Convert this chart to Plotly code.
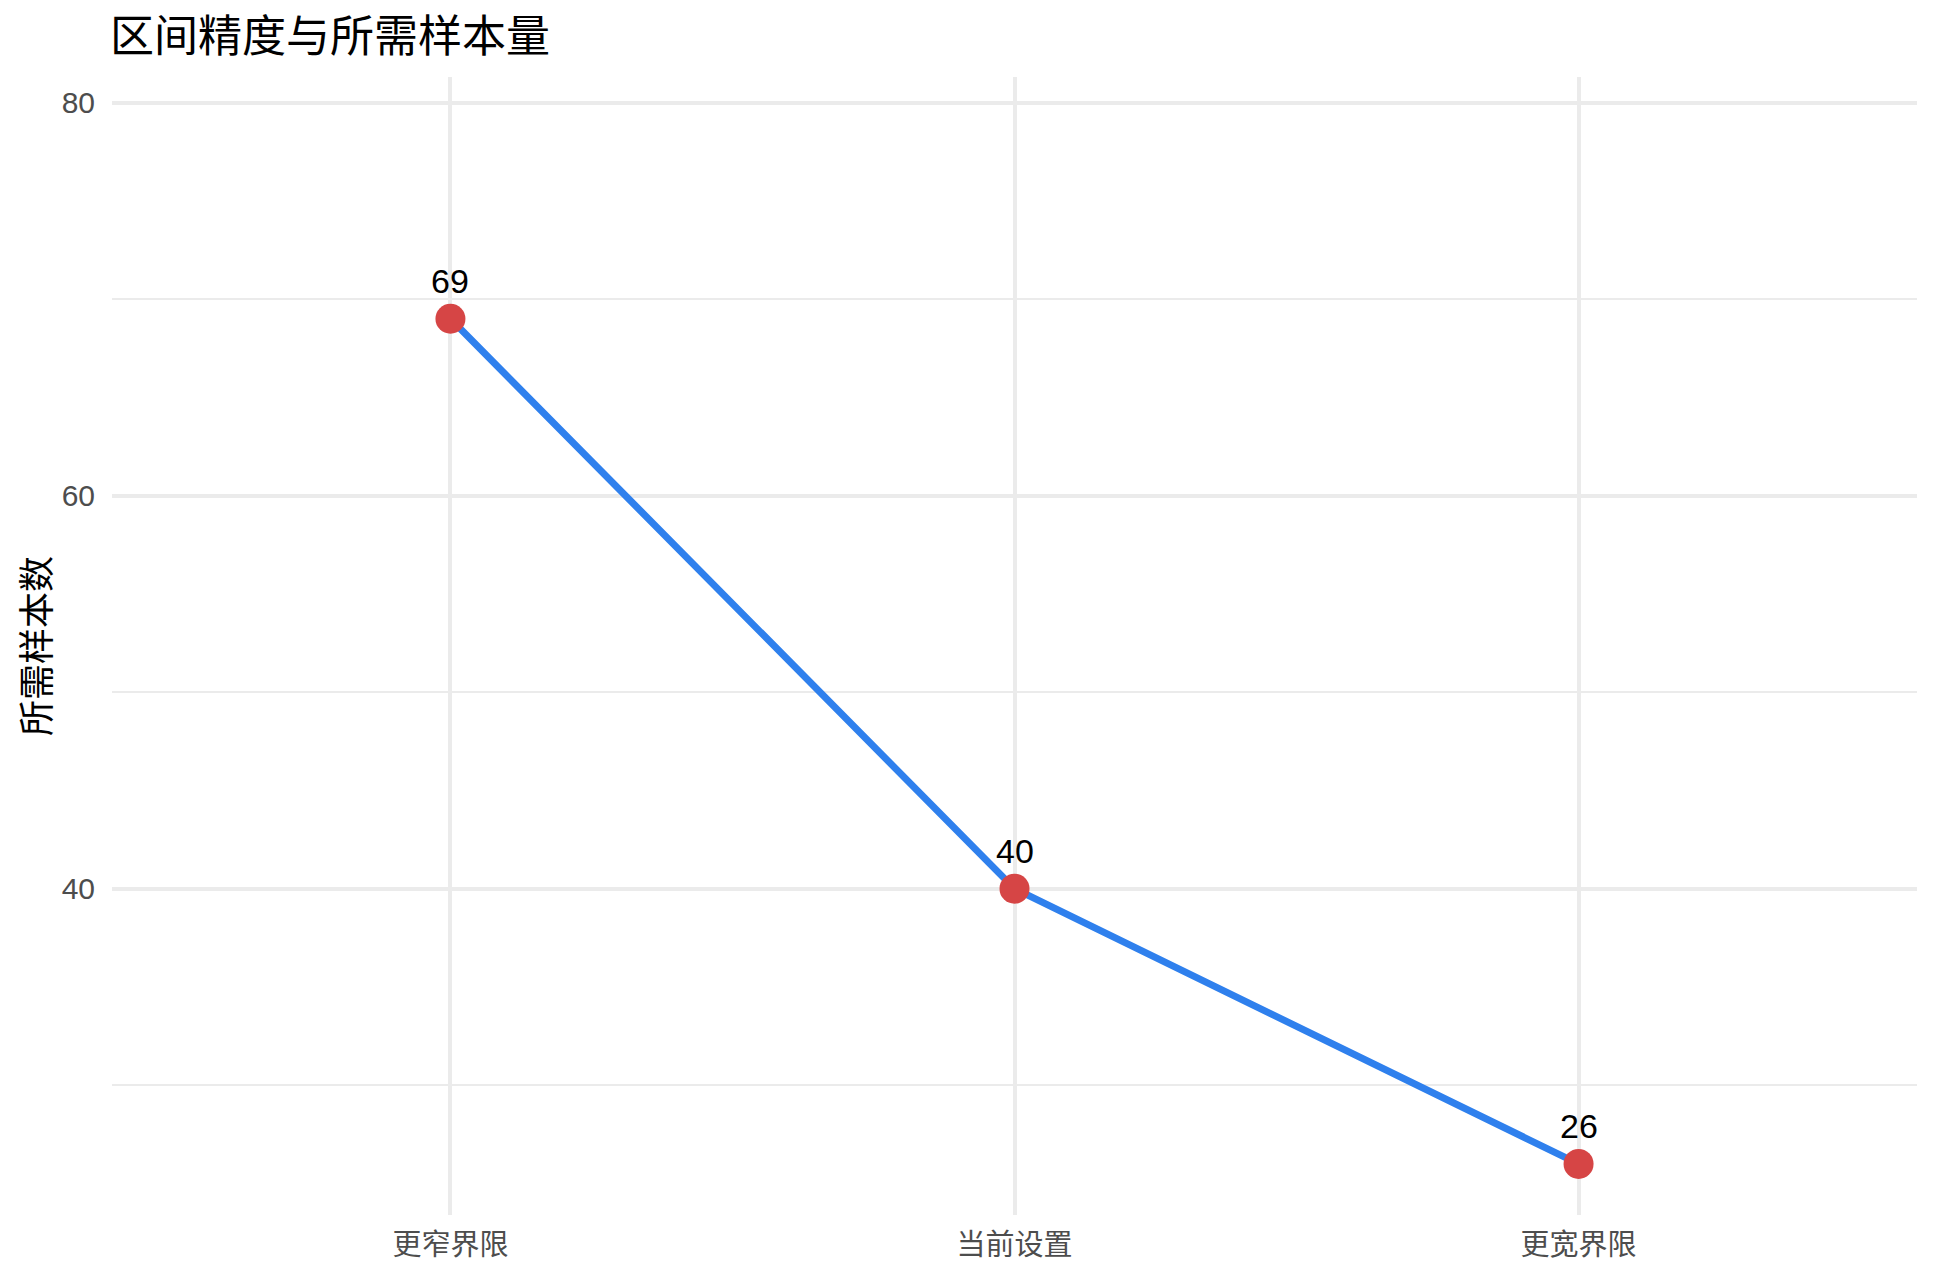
import plotly.graph_objects as go

# data
settings = ["更窄界限", "当前设置", "更宽界限"]
sample_n = [69, 40, 26]
y_ticks = [40, 60, 80]

font_fam = "Liberation Sans, Noto Sans CJK SC, sans-serif"

fig = go.Figure()
fig.add_trace(go.Scatter(
    x=settings,
    y=sample_n,
    mode="lines+markers",
    line=dict(color="#2F80ED", width=7),
    marker=dict(color="#D64545", size=30),
    showlegend=False,
))

# value labels above each point
for s, n in zip(settings, sample_n):
    fig.add_annotation(
        x=s, y=n, text=str(n), showarrow=False,
        yanchor="bottom", yshift=17,
        font=dict(family=font_fam, size=34, color="black"),
    )

# page body has an 8px margin, so the figure is 8px smaller each way
fig.update_layout(
    width=1928,
    height=1268,
    paper_bgcolor="white",
    plot_bgcolor="white",
    margin=dict(l=104, r=19, t=69, b=61),
    font=dict(family=font_fam),
    title=dict(
        text="区间精度与所需样本量",
        x=102 / 1928, xref="container", xanchor="left",
        y=1 - 29 / 1268, yref="container", yanchor="middle",
        font=dict(family="Noto Sans CJK SC", size=44, color="black"),
    ),
)

fig.update_xaxes(
    type="category",
    range=[-0.6, 2.6],
    showgrid=True,
    gridcolor="#EBEBEB",
    gridwidth=3.5,
    zeroline=False,
    showline=False,
    ticks="",
    ticklabelstandoff=10,
    tickfont=dict(family="Noto Sans CJK SC", size=29, color="#4D4D4D"),
)

fig.update_yaxes(
    range=[23.4, 81.3],
    tickvals=y_ticks,
    showgrid=True,
    gridcolor="#EBEBEB",
    gridwidth=3.5,
    minor=dict(dtick=10, tick0=0, showgrid=True, gridcolor="#EBEBEB", gridwidth=2),
    zeroline=False,
    showline=False,
    ticks="",
    ticklabelstandoff=16,
    tickfont=dict(family=font_fam, size=30, color="#4D4D4D"),
    title=dict(
        text="所需样本数",
        standoff=14,
        font=dict(family="Noto Sans CJK SC", size=36, color="black"),
    ),
)

fig.write_html("out.html")
